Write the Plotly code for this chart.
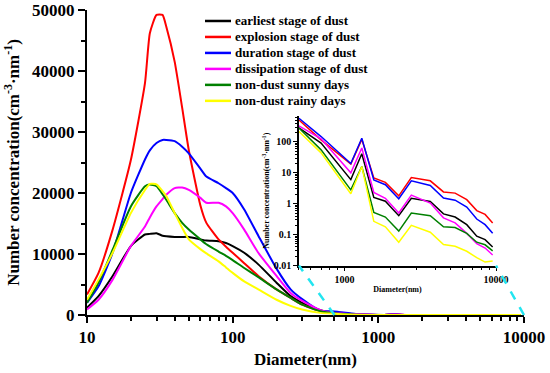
import numpy as np
import plotly.graph_objects as go

# ---------------- data ----------------
diameters = [10, 12, 15, 20, 25, 27, 30, 33, 35, 40, 45, 50, 60, 66, 80, 90, 100, 120, 150,
             200, 250, 300, 400, 500, 700, 1100, 1300, 1560, 1860, 2280, 2760, 3680, 4500,
             5370, 6410, 7460, 8470, 9500]

earliest = [1200, 3100, 6400, 11300, 13200, 13300, 13400, 13000, 12900, 12800, 12800, 12800,
            12400, 12200, 12100, 11800, 11300, 10200, 8300, 5300, 3100, 2000, 800, 280, 91,
            6, 41, 1.6, 1.2, 0.41, 1.5, 1.18, 0.47, 0.37, 0.21, 0.089, 0.069, 0.040]
explosion = [3350, 6900, 14000, 25400, 38000, 46200, 49200, 49200, 47300, 41500, 34000, 27000,
             18000, 15100, 12400, 11200, 10200, 8500, 6400, 4200, 2800, 1700, 630, 510, 116,
             19, 120, 6.8, 4.9, 1.8, 7.0, 5.5, 2.4, 2.2, 1.35, 0.60, 0.45, 0.24]
duration = [2000, 4700, 10200, 20000, 25500, 27000, 28200, 28700, 28700, 28500, 27600, 26500,
            24000, 22700, 21600, 20800, 20000, 17300, 13000, 7600, 4200, 2600, 700, 580, 148,
            20, 130, 5.9, 4.1, 1.45, 5.5, 3.9, 1.52, 1.3, 0.78, 0.32, 0.21, 0.11]
dissipation = [900, 2500, 5800, 11300, 14500, 16000, 17800, 19000, 19700, 20800, 20900, 20500,
               19200, 18400, 18400, 17800, 16700, 14000, 10200, 6400, 3600, 2300, 800, 330, 125,
               10, 63, 2.3, 1.5, 0.50, 1.9, 1.05, 0.35, 0.24, 0.11, 0.051, 0.037, 0.022]
sunny = [2000, 5300, 10700, 17800, 21100, 21400, 21100, 19800, 18900, 16700, 15100, 14000,
         12400, 11600, 10400, 9700, 9000, 7700, 6200, 4200, 2800, 1700, 630, 280, 55,
         2.8, 16, 0.52, 0.37, 0.13, 0.50, 0.41, 0.18, 0.17, 0.11, 0.057, 0.047, 0.030]
rainy = [2500, 5800, 10200, 16700, 20500, 21500, 21400, 20300, 19500, 16700, 14300, 12400,
         10800, 10100, 8800, 7800, 6900, 5500, 4200, 2500, 1500, 900, 350, 215, 44,
         2.1, 16, 0.27, 0.18, 0.057, 0.20, 0.12, 0.048, 0.042, 0.029, 0.018, 0.013, 0.014]

series_names = ["earliest stage of dust", "explosion stage of dust", "duration stage of dust",
                "dissipation stage of dust", "non-dust sunny days", "non-dust rainy days"]
series_values = [earliest, explosion, duration, dissipation, sunny, rainy]
series_colors = ["#000000", "#FF0000", "#0000FF", "#FF00FF", "#008000", "#FFFF00"]

main_x_ticks = [10, 100, 1000, 10000]
main_y_ticks = [0, 10000, 20000, 30000, 40000, 50000]
inset_y_ticks = [0.01, 0.1, 1, 10, 100]
inset_y_labels = ["0.01", "0.1", "1", "10", "100"]
inset_x_ticks = [1000, 10000]
inset_start = 500

# ---------------- geometry ----------------
W, H = 550, 373
ML, MR, MT, MB = 87, 26, 10, 57.5
PW, PH = W - ML - MR, H - MT - MB
FONT = "Liberation Serif"
main_xrange = [1, 4]
main_yrange = [0, 50000]
inset_xdom = [0.485, 0.936]
inset_ydom = [0.162, 0.653]
inset_xrange = [np.log10(inset_start), 4]
inset_yrange = [-2, 2.84]

fig = go.Figure()

for name, vals, col in zip(series_names, series_values, series_colors):
    fig.add_trace(go.Scatter(x=diameters, y=vals, name=name, mode="lines", showlegend=False,
                             line=dict(color=col, width=2, shape="spline", smoothing=0.5),
                             xaxis="x", yaxis="y"))

for name, vals, col in zip(series_names, series_values, series_colors):
    xs = [d for d in diameters if d >= inset_start]
    ys = [v for d, v in zip(diameters, vals) if d >= inset_start]
    fig.add_trace(go.Scatter(x=xs, y=ys, name=name, mode="lines", showlegend=False,
                             line=dict(color=col, width=1.5),
                             xaxis="x2", yaxis="y2"))

minor_main_x = [m * 10 ** e for e in range(1, 4) for m in range(2, 10)]
minor_inset_x = [m * 10 ** e for e in range(2, 4) for m in range(2, 10) if m * 10 ** e >= inset_start]
minor_inset_y = [m * 10.0 ** e for e in range(-2, 3) for m in range(2, 10) if m * 10.0 ** e <= 10 ** inset_yrange[1]]

tickfont_main = dict(family=FONT, size=17, color="black", weight="bold")
tickfont_inset = dict(family=FONT, size=10, color="black", weight="bold")

fig.update_layout(
    width=W, height=H,
    margin=dict(l=ML, r=MR, t=MT, b=MB, autoexpand=False),
    paper_bgcolor="white", plot_bgcolor="white",
    font=dict(family=FONT, color="black"),
    showlegend=False,
    xaxis=dict(type="log", range=main_xrange, domain=[0, 1], automargin=False,
               showline=True, linecolor="black", linewidth=2, mirror=False,
               showgrid=False, zeroline=False,
               ticks="outside", ticklen=6, tickwidth=2, tickcolor="black",
               tickvals=main_x_ticks, ticktext=[str(v) for v in main_x_ticks],
               tickfont=tickfont_main,
               minor=dict(ticks="outside", ticklen=4, tickwidth=1.5, tickcolor="black",
                          tickvals=minor_main_x, showgrid=False),
               title=dict(text="Diameter(nm)", font=dict(family=FONT, size=17, weight="bold"),
                          standoff=7)),
    yaxis=dict(range=main_yrange, domain=[0, 1], automargin=False,
               showline=True, linecolor="black", linewidth=2,
               showgrid=False, zeroline=False,
               ticks="outside", ticklen=7, tickwidth=2, tickcolor="black",
               tickvals=main_y_ticks, ticktext=[str(v) for v in main_y_ticks],
               tickfont=tickfont_main,
               minor=dict(ticks="outside", ticklen=4, tickwidth=1.5, tickcolor="black",
                          dtick=5000, showgrid=False),
               title=dict(text="Number concentration(cm<sup>-3</sup>·nm<sup>-1</sup>)",
                          font=dict(family=FONT, size=17, weight="bold"), standoff=8)),
    xaxis2=dict(type="log", range=inset_xrange, domain=inset_xdom, anchor="y2", automargin=False,
                showline=True, linecolor="black", linewidth=1.5,
                showgrid=False, zeroline=False,
                ticks="outside", ticklen=4, tickwidth=1.2, tickcolor="black",
                tickvals=inset_x_ticks, ticktext=[str(v) for v in inset_x_ticks],
                tickfont=tickfont_inset,
                minor=dict(ticks="outside", ticklen=2.5, tickwidth=1, tickcolor="black",
                           tickvals=minor_inset_x, showgrid=False),
                title=dict(text="Diameter(nm)", font=dict(family=FONT, size=8, weight="bold"),
                           standoff=2)),
    yaxis2=dict(type="log", range=inset_yrange, domain=inset_ydom, anchor="x2", automargin=False,
                showline=True, linecolor="black", linewidth=1.5,
                showgrid=False, zeroline=False,
                ticks="outside", ticklen=4, tickwidth=1.2, tickcolor="black",
                tickvals=inset_y_ticks, ticktext=inset_y_labels,
                tickfont=tickfont_inset,
                minor=dict(ticks="outside", ticklen=2.5, tickwidth=1, tickcolor="black",
                           tickvals=minor_inset_y, showgrid=False),
                title=dict(text="Number concentration(cm<sup>-3</sup>·nm<sup>-1</sup>)",
                           font=dict(family=FONT, size=8, weight="bold"), standoff=3)),
)

# ---------------- legend (drawn as line samples + labels) ----------------
def px_to_paper_x(px):
    return (px - ML) / PW

def px_to_paper_y(py):
    return (H - MB - py) / PH

leg_line_x0, leg_line_x1, leg_text_x = 205, 231, 233
leg_top, leg_step = 21, 16
for i, (name, col) in enumerate(zip(series_names, series_colors)):
    yy = px_to_paper_y(leg_top + i * leg_step)
    fig.add_shape(type="line", xref="paper", yref="paper",
                  x0=px_to_paper_x(leg_line_x0), x1=px_to_paper_x(leg_line_x1), y0=yy, y1=yy,
                  line=dict(color=col, width=2.5))
    fig.add_annotation(xref="paper", yref="paper", x=px_to_paper_x(leg_text_x), y=yy,
                       xanchor="left", yanchor="middle", showarrow=False, text=name,
                       font=dict(family=FONT, size=13, color="black", weight="bold"))

# connector dashed lines (zoom region on main axis -> inset corners)
def main_xpaper(d):
    return (np.log10(d) - main_xrange[0]) / (main_xrange[1] - main_xrange[0])

zoom_ends = [(inset_start, inset_xdom[0]), (10 ** inset_xrange[1], inset_xdom[1])]
for d, xin in zoom_ends:
    fig.add_shape(type="line", xref="paper", yref="paper",
                  x0=main_xpaper(d), y0=0, x1=xin, y1=inset_ydom[0],
                  line=dict(color="#22E5F0", width=2.5, dash="dash"))

fig.write_html("out.html", config={"displayModeBar": False},
               post_script="document.body.style.margin='0';document.body.style.overflow='hidden';")
